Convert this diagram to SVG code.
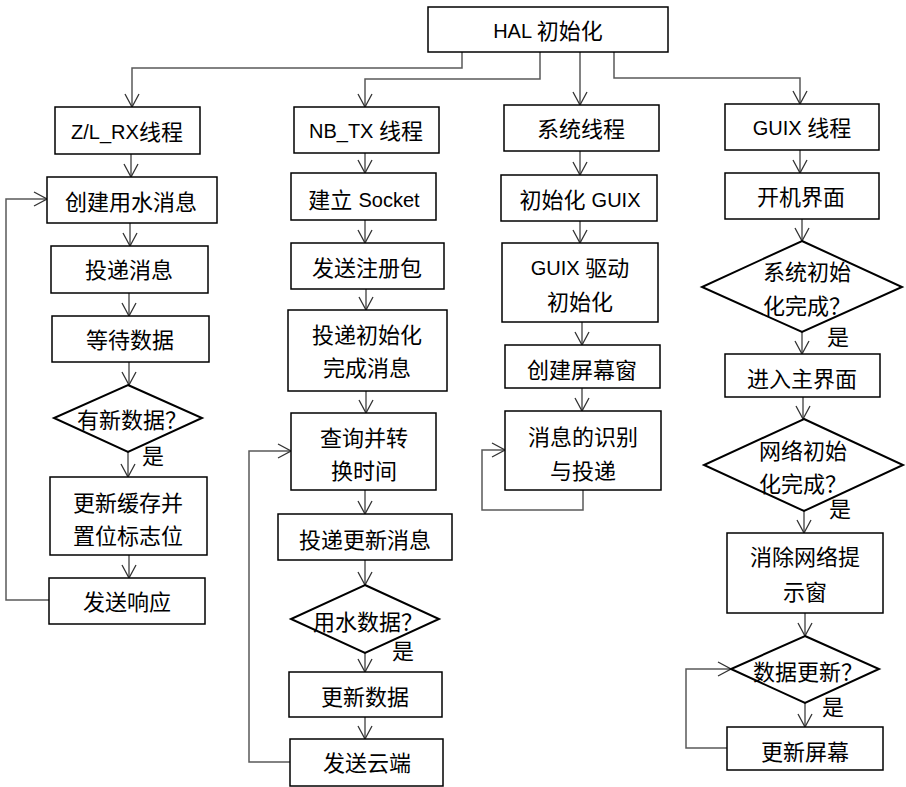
<svg xmlns="http://www.w3.org/2000/svg" width="906" height="787" viewBox="0 0 906 787">
<style>
.box{fill:#fff;stroke:#000;stroke-width:1.5}
.dia{fill:#fff;stroke:#000;stroke-width:2}
.t{font-family:"Liberation Sans","Noto Sans CJK SC",sans-serif;font-size:22px;fill:#000;text-anchor:middle;dominant-baseline:central}
.l{font-size:20px}
.c{fill:none;stroke:#595959;stroke-width:1.5}
</style>
<defs>
<marker id="a" viewBox="-14 -8 15 16" refX="0" refY="0" markerWidth="15" markerHeight="16" markerUnits="userSpaceOnUse" orient="auto">
<path d="M-13,-7 L0,0 L-13,7" fill="none" stroke="#333" stroke-width="1.3"/>
</marker>
</defs>
<rect width="906" height="787" fill="#fff"/>
<g id="connectors" class="c" marker-end="url(#a)">
<path d="M462,52 V68 H132 V107"/>
<path d="M540,52 V79 H365 V107"/>
<path d="M580,52 V105"/>
<path d="M614,52 V78 H800 V104"/>
<path d="M131,154 V177"/>
<path d="M130,223 V246"/>
<path d="M129,293 V316"/>
<path d="M129,362 V385"/>
<path d="M128,452 V477"/>
<path d="M129,555 V578"/>
<path d="M49,600 H6 V199 H47"/>
<path d="M365,153 V173"/>
<path d="M365,220 V243"/>
<path d="M366,289 V310"/>
<path d="M366,391 V413"/>
<path d="M365,490 V514"/>
<path d="M365,560 V585"/>
<path d="M365,653 V672"/>
<path d="M365,717 V739"/>
<path d="M290,762 H249 V451 H291"/>
<path d="M580,151 V175"/>
<path d="M580,221 V243"/>
<path d="M582,322 V345"/>
<path d="M582,388 V411"/>
<path d="M583,490 V510 H482 V450 H505"/>
<path d="M800,150 V173"/>
<path d="M802,219 V241"/>
<path d="M802,332 V354"/>
<path d="M803,397 V419"/>
<path d="M804,511 V533"/>
<path d="M805,613 V636"/>
<path d="M805,703 V727"/>
<path d="M727,748 H686 V669 H731"/>
</g>
<g id="hal"><rect class="box" x="428" y="7" width="240" height="45"/><text class="t" x="548" y="31"><tspan class="l">HAL </tspan>初始化</text></g>
<g id="zlrx"><rect class="box" x="55" y="107" width="145" height="47"/><text class="t" x="127" y="132"><tspan class="l">Z/L_RX</tspan>线程</text></g>
<g id="nbtx"><rect class="box" x="294" y="107" width="145" height="46"/><text class="t" x="366" y="131"><tspan class="l">NB_TX </tspan>线程</text></g>
<g id="sys"><rect class="box" x="504" y="105" width="155" height="46"/><text class="t" x="581" y="129">系统线程</text></g>
<g id="guix"><rect class="box" x="725" y="104" width="154" height="46"/><text class="t" x="802" y="128"><tspan class="l">GUIX </tspan>线程</text></g>

<g id="c1n1"><rect class="box" x="47" y="177" width="170" height="46"/><text class="t" x="131" y="202">创建用水消息</text></g>
<g id="c1n2"><rect class="box" x="51" y="246" width="157" height="47"/><text class="t" x="129" y="270">投递消息</text></g>
<g id="c1n3"><rect class="box" x="52" y="316" width="157" height="46"/><text class="t" x="130" y="340">等待数据</text></g>
<g id="c1d"><polygon class="dia" points="128,385 202,418 128,452 54,418"/><text class="t" x="132" y="420">有新数据？</text><text class="t" x="153" y="456">是</text></g>
<g id="c1n4"><rect class="box" x="50" y="477" width="157" height="78"/><text class="t" x="128" y="503">更新缓存并</text><text class="t" x="128" y="536">置位标志位</text></g>
<g id="c1n5"><rect class="box" x="49" y="578" width="156" height="46"/><text class="t" x="127" y="602">发送响应</text></g>

<g id="c2n1"><rect class="box" x="291" y="173" width="145" height="47"/><text class="t" x="364" y="200">建立 <tspan class="l">Socket</tspan></text></g>
<g id="c2n2"><rect class="box" x="291" y="243" width="153" height="46"/><text class="t" x="367" y="268">发送注册包</text></g>
<g id="c2n3"><rect class="box" x="288" y="310" width="159" height="81"/><text class="t" x="367" y="335">投递初始化</text><text class="t" x="367" y="368">完成消息</text></g>
<g id="c2n4"><rect class="box" x="291" y="413" width="145" height="77"/><text class="t" x="364" y="438">查询并转</text><text class="t" x="364" y="471">换时间</text></g>
<g id="c2n5"><rect class="box" x="278" y="514" width="174" height="46"/><text class="t" x="365" y="540">投递更新消息</text></g>
<g id="c2d"><polygon class="dia" points="365,585 439,619 365,653 291,619"/><text class="t" x="368" y="622">用水数据？</text><text class="t" x="403" y="651">是</text></g>
<g id="c2n6"><rect class="box" x="289" y="672" width="153" height="45"/><text class="t" x="365" y="697">更新数据</text></g>
<g id="c2n7"><rect class="box" x="290" y="739" width="153" height="47"/><text class="t" x="367" y="763">发送云端</text></g>

<g id="c3n1"><rect class="box" x="501" y="175" width="156" height="46"/><text class="t" x="580" y="200">初始化 <tspan class="l">GUIX</tspan></text></g>
<g id="c3n2"><rect class="box" x="502" y="243" width="156" height="79"/><text class="t" x="580" y="268"><tspan class="l">GUIX </tspan>驱动</text><text class="t" x="580" y="302">初始化</text></g>
<g id="c3n3"><rect class="box" x="505" y="345" width="155" height="43"/><text class="t" x="582" y="370">创建屏幕窗</text></g>
<g id="c3n4"><rect class="box" x="505" y="411" width="156" height="79"/><text class="t" x="583" y="437">消息的识别</text><text class="t" x="583" y="471">与投递</text></g>

<g id="c4n1"><rect class="box" x="725" y="173" width="154" height="46"/><text class="t" x="801" y="197">开机界面</text></g>
<g id="c4d1"><polygon class="dia" points="802,241 902,287 802,332 702,287"/><text class="t" x="807" y="272">系统初始</text><text class="t" x="807" y="306">化完成？</text><text class="t" x="838" y="337">是</text></g>
<g id="c4n2"><rect class="box" x="725" y="354" width="155" height="43"/><text class="t" x="802" y="379">进入主界面</text></g>
<g id="c4d2"><polygon class="dia" points="804,419 903,465 804,511 704,465"/><text class="t" x="803" y="451">网络初始</text><text class="t" x="803" y="484">化完成？</text><text class="t" x="840" y="509">是</text></g>
<g id="c4n3"><rect class="box" x="727" y="533" width="156" height="80"/><text class="t" x="805" y="557">消除网络提</text><text class="t" x="805" y="592">示窗</text></g>
<g id="c4d3"><polygon class="dia" points="805,636 879,669 805,703 731,669"/><text class="t" x="808" y="672">数据更新？</text><text class="t" x="833" y="707">是</text></g>
<g id="c4n4"><rect class="box" x="727" y="727" width="156" height="43"/><text class="t" x="805" y="752">更新屏幕</text></g>
</svg>
